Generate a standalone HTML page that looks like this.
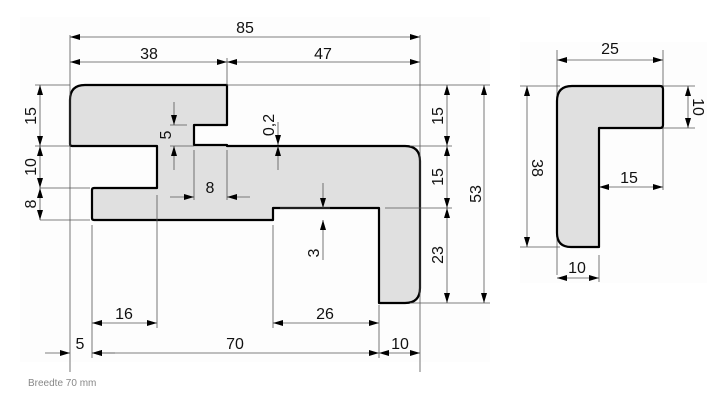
<!DOCTYPE html>
<html><head><meta charset="utf-8"><style>
html,body{margin:0;padding:0;background:#fff;width:725px;height:406px;overflow:hidden}
svg{display:block}
text{font-family:"Liberation Sans",sans-serif;font-size:16px;fill:#111}
</style></head><body>
<svg width="725" height="406" viewBox="0 0 725 406" xmlns="http://www.w3.org/2000/svg">
<defs>
<marker id="a" viewBox="0 0 10 6" refX="10" refY="3" markerWidth="10" markerHeight="6" markerUnits="userSpaceOnUse" orient="auto-start-reverse"><path d="M0,0L10,3L0,6z" fill="#000"/></marker>
</defs>
<rect x="20" y="17" width="470" height="345" fill="#fdfdfd"/>
<rect x="520" y="42" width="187" height="241" fill="#fdfdfd"/>

<path d="M85,85 H227 V125 H194 V145 H227 V146 H405 Q420,146 420,161 V288 Q420,303 405,303 H379 V208 H273 V220 H94 Q92,220 92,218 V190 Q92,188 94,188 H157 V146 H72 Q70,146 70,144 V100 Q70,85 85,85 Z" fill="#e0e0e0" stroke="#000" stroke-width="2.2" stroke-linejoin="round"/>

<g stroke="#555" stroke-width="0.8" fill="none">
<path d="M70,35V372M420,35V372M227,58V85M227,85H490M35,85H70M35,146H70M40,188H90M40,220H90M410,146H452M385,208H452M410,303H490"/>
<path d="M170,125H187M170,146H194M194,150V200M227,150V200M280,208H330M92,225V358M157,195V328M273,225V328M379,305V358"/>
<path d="M70,37H420" marker-start="url(#a)" marker-end="url(#a)"/>
<path d="M70,62H227" marker-start="url(#a)" marker-end="url(#a)"/>
<path d="M227,62H420" marker-start="url(#a)" marker-end="url(#a)"/>
<path d="M92,323H157" marker-start="url(#a)" marker-end="url(#a)"/>
<path d="M273,323H379" marker-start="url(#a)" marker-end="url(#a)"/>
<path d="M92,353H379" marker-start="url(#a)" marker-end="url(#a)"/>
<path d="M379,353H420" marker-start="url(#a)" marker-end="url(#a)"/>
<path d="M45,353H70" marker-end="url(#a)"/>
<path d="M115,353H92" marker-end="url(#a)"/>
<path d="M170,197H194" marker-end="url(#a)"/>
<path d="M250,197H227" marker-end="url(#a)"/>
<path d="M40,85V146" marker-start="url(#a)" marker-end="url(#a)"/>
<path d="M40,146V188" marker-start="url(#a)" marker-end="url(#a)"/>
<path d="M40,188V220" marker-start="url(#a)" marker-end="url(#a)"/>
<path d="M447,85V146" marker-start="url(#a)" marker-end="url(#a)"/>
<path d="M447,146V208" marker-start="url(#a)" marker-end="url(#a)"/>
<path d="M447,208V303" marker-start="url(#a)" marker-end="url(#a)"/>
<path d="M484,85V303" marker-start="url(#a)" marker-end="url(#a)"/>
<path d="M174,102V125" marker-end="url(#a)"/>
<path d="M174,170V146" marker-end="url(#a)"/>
<path d="M278,122V145" marker-end="url(#a)"/>
<path d="M278,170V146" marker-end="url(#a)"/>
<path d="M323,183V208" marker-end="url(#a)"/>
<path d="M323,260V220" marker-end="url(#a)"/>

<path d="M557,50V275M663,50V190M599,255V282M520,86H560M520,247H560M663,86H695M663,128H695"/>
<path d="M557,60H663" marker-start="url(#a)" marker-end="url(#a)"/>
<path d="M599,187H663" marker-start="url(#a)" marker-end="url(#a)"/>
<path d="M557,278H599" marker-start="url(#a)" marker-end="url(#a)"/>
<path d="M527,86V247" marker-start="url(#a)" marker-end="url(#a)"/>
<path d="M688,86V128" marker-start="url(#a)" marker-end="url(#a)"/>
</g>

<path d="M572,86 H660 Q663,86 663,89 V125 Q663,128 660,128 H599 V247 H571 Q557,247 557,233 V101 Q557,86 572,86 Z" fill="#e0e0e0" stroke="#000" stroke-width="2.2" stroke-linejoin="round"/>

<g text-anchor="middle">
<text x="245" y="33">85</text>
<text x="149" y="59">38</text>
<text x="323" y="59">47</text>
<text x="210" y="193">8</text>
<text x="124" y="319">16</text>
<text x="325" y="319">26</text>
<text x="80" y="349">5</text>
<text x="235" y="349">70</text>
<text x="400" y="349">10</text>
<text x="610" y="54">25</text>
<text x="629" y="183">15</text>
<text x="577" y="273">10</text>
<g transform="rotate(-90)">
<text x="-116" y="36">15</text>
<text x="-167" y="36">10</text>
<text x="-204" y="36">8</text>
<text x="-135" y="171">5</text>
<text x="-125" y="274">0,2</text>
<text x="-253" y="319">3</text>
<text x="-116" y="443">15</text>
<text x="-177" y="443">15</text>
<text x="-255" y="443">23</text>
<text x="-194" y="481">53</text>
</g>
<text transform="translate(532,168) rotate(90)">38</text>
<text transform="translate(693,107) rotate(90)">10</text>
</g>
<text x="28" y="386" style="font-size:10px;fill:#888">Breedte 70 mm</text>
</svg>
</body></html>
